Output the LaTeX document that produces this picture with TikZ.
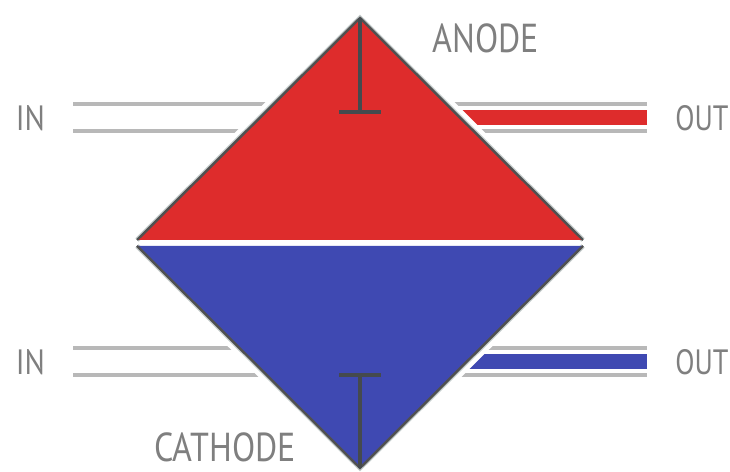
\documentclass[tikz,border=0pt]{standalone}
\usepackage{xcolor}
\usepackage{fontspec}
\setmainfont{PT Sans}
\definecolor{anodefill}{HTML}{DE2C2C}
\definecolor{cathodefill}{HTML}{3F49B2}
\definecolor{pipegray}{HTML}{B8B8B8}
\definecolor{edgegray}{HTML}{505050}
\definecolor{edgehalo}{HTML}{C4CCCC}
\definecolor{labelgray}{HTML}{7F7F7F}
\definecolor{probegray}{HTML}{454A4E}
\tikzset{
    pipeline/.style={draw=pipegray, line width=2pt},
    halo/.style={draw=white, line width=8pt},
    shade line/.style={draw=edgehalo, line width=2.8pt},
    edge line/.style={draw=edgegray, line width=1.4pt},
    probe/.style={draw=probegray, line width=2pt},
    tag/.style={text=labelgray, inner sep=0pt, font=\fontsize{20}{20}\selectfont, xscale=0.86},
    outtag/.style={tag, xscale=0.9},
    bigtag/.style={text=labelgray, inner sep=0pt, font=\fontsize{23}{23}\selectfont, xscale=0.84}
}

\begin{document}
\begin{tikzpicture}
    \useasboundingbox (0,0) rectangle (14.6,9.44);
    % Corners of the two halves
    \coordinate (anodetop) at (7.2,9.08);
    \coordinate (anodeleft) at (2.74,4.64);
    \coordinate (anoderight) at (11.66,4.64);
    \coordinate (cathodeleft) at (2.74,4.52);
    \coordinate (cathoderight) at (11.66,4.52);
    \coordinate (cathodebottom) at (7.2,0.08);
    % Ends of the pipes
    \coordinate (inAa) at (1.46,7.36);
    \coordinate (inAb) at (1.46,6.82);
    \coordinate (inCa) at (1.46,2.48);
    \coordinate (inCb) at (1.46,1.94);
    \coordinate (outAa) at (12.94,7.36);
    \coordinate (outAb) at (12.94,6.82);
    \coordinate (outAm) at (12.94,7.09);
    \coordinate (outCa) at (12.94,2.48);
    \coordinate (outCb) at (12.94,1.94);
    \coordinate (outCm) at (12.94,2.21);
    \coordinate (insideAa) at (7.2,7.36);
    \coordinate (insideAb) at (7.2,6.82);
    \coordinate (insideAm) at (7.2,7.09);
    \coordinate (insideCa) at (7.2,2.48);
    \coordinate (insideCb) at (7.2,1.94);
    \coordinate (insideCm) at (7.2,2.21);
    % Inlet and outlet pipes
    \draw[pipeline] (inAa) -- (insideAa);
    \draw[pipeline] (inAb) -- (insideAb);
    \draw[pipeline] (inCa) -- (insideCa);
    \draw[pipeline] (inCb) -- (insideCb);
    \draw[pipeline] (outAa) -- (insideAa);
    \draw[pipeline] (outAb) -- (insideAb);
    \draw[pipeline] (outCa) -- (insideCa);
    \draw[pipeline] (outCb) -- (insideCb);
    % Coloured outlet streams
    \draw[anodefill, line width=8.4pt] (outAm) -- (insideAm);
    \draw[cathodefill, line width=8.4pt] (outCm) -- (insideCm);
    % White gap around the diamond
    \draw[halo] (anodeleft) -- (anodetop) -- (anoderight);
    \draw[halo] (cathodeleft) -- (cathodebottom) -- (cathoderight);
    \draw[shade line] (anodeleft) -- (anodetop) -- (anoderight);
    \draw[shade line] (cathodeleft) -- (cathodebottom) -- (cathoderight);
    % Anode half
    \fill[anodefill] (anodeleft) -- (anodetop) -- (anoderight) -- cycle;
    \draw[edge line] (anodeleft) -- (anodetop) -- (anoderight);
    % Cathode half
    \fill[cathodefill] (cathodeleft) -- (cathodebottom) -- (cathoderight) -- cycle;
    \draw[edge line] (cathodeleft) -- (cathodebottom) -- (cathoderight);
    % Electrode probes
    \coordinate (probeAl) at (6.78,7.2);
    \coordinate (probeAm) at (7.2,7.2);
    \coordinate (probeAr) at (7.62,7.2);
    \coordinate (probeCl) at (6.78,1.94);
    \coordinate (probeCm) at (7.2,1.94);
    \coordinate (probeCr) at (7.62,1.94);
    \draw[probe] (anodetop) -- (probeAm);
    \draw[probe] (probeAl) -- (probeAr);
    \draw[probe] (cathodebottom) -- (probeCm);
    \draw[probe] (probeCl) -- (probeCr);
    % Labels
    \node[bigtag] (anode) at (9.71,8.68) {ANODE};
    \node[bigtag] (cathode) at (4.5,0.5) {CATHODE};
    \node[tag] (inA) at (0.61,7.07) {IN};
    \node[tag] (inC) at (0.61,2.19) {IN};
    \node[tag, xscale=0.93] (outA) at (14.04,7.07) {OUT};
    \node[tag, xscale=0.93] (outC) at (14.04,2.19) {OUT};
\end{tikzpicture}
\end{document}
